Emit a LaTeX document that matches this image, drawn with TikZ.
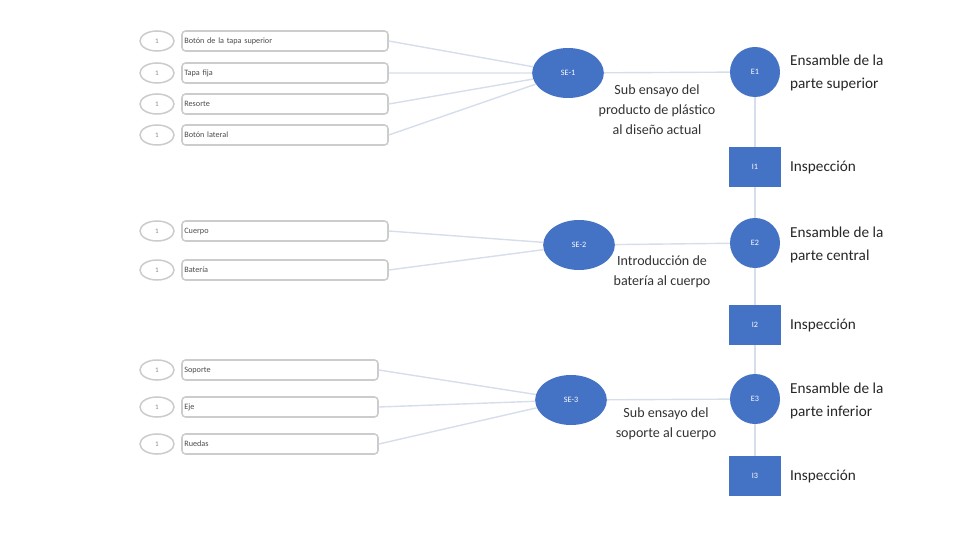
\documentclass[tikz,border=0pt]{standalone}
\usepackage{fontspec}
\setmainfont{Carlito}
\usetikzlibrary{shapes.geometric}
\definecolor{opblue}{HTML}{4472C4}
\definecolor{linkgray}{HTML}{D5DEEA}
\tikzset{
  part tag/.style={
    ellipse,draw=black!20,line width=1.3pt,fill=white,minimum width=1.02cm,
    minimum height=0.6cm,inner sep=0pt,font=\fontsize{6}{7}\selectfont,text=black!45
  },
  part box/.style={
    rectangle,rounded corners=3pt,draw=black!20,line width=1.3pt,fill=white,
    minimum height=0.6cm,inner sep=2pt,align=left,
    font=\fontsize{7}{8}\selectfont,text=black!70
  },
  sub node/.style={
    ellipse,fill=opblue,minimum width=2.15cm,minimum height=1.5cm,
    inner sep=0pt,font=\fontsize{7}{8}\selectfont,text=white
  },
  op node/.style={
    circle,fill=opblue,minimum size=1.5cm,inner sep=0pt,
    font=\fontsize{7}{8}\selectfont,text=white
  },
  insp node/.style={
    rectangle,fill=opblue,minimum width=1.56cm,minimum height=1.2cm,
    inner sep=0pt,font=\fontsize{7}{8}\selectfont,text=white
  },
  step text/.style={font=\fontsize{12}{17}\selectfont,text=black!80,align=center},
  side text/.style={anchor=west,font=\fontsize{13}{19}\selectfont,text=black!85,align=left},
  link/.style={linkgray,line width=1.2pt}
}
\newcommand{\partrow}[5]{%
  \node[part tag] (#1t) at (157,#2) {1};
  \node[part box,minimum width=#3cm,text width=#3cm-4pt] (#1) at (#4,#2) {#5\vphantom{Áy}};
}

\begin{document}
\begin{tikzpicture}[x=0.03cm,y=-0.03cm]
  \useasboundingbox (0,0) rectangle (960,540);
  % parts of the first sub assembly
  \partrow{p1}{41}{6.18}{285}{Botón de la tapa superior}
  \partrow{p2}{73}{6.18}{285}{Tapa fija}
  \partrow{p3}{104}{6.18}{285}{Resorte}
  \partrow{p4}{135}{6.18}{285}{Botón lateral}
  % parts of the second sub assembly
  \partrow{p5}{231}{6.18}{285}{Cuerpo}
  \partrow{p6}{270}{6.18}{285}{Batería}
  % parts of the third sub assembly
  \partrow{p7}{370}{5.88}{280}{Soporte}
  \partrow{p8}{407}{5.88}{280}{Eje}
  \partrow{p9}{444}{5.88}{280}{Ruedas}

  \node[sub node] (se1) at (568,73) {SE-1};
  \node[sub node] (se2) at (579,245) {SE-2};
  \node[sub node] (se3) at (571,400) {SE-3};

  \node[op node] (e1) at (755,72) {E1};
  \node[insp node] (i1) at (755,167) {I1};
  \node[op node] (e2) at (755,243) {E2};
  \node[insp node] (i2) at (755,325) {I2};
  \node[op node] (e3) at (755,399) {E3};
  \node[insp node] (i3) at (755,476) {I3};

  \node[step text] (s1) at (657,110) {Sub ensayo del\\producto de plástico\\al diseño actual};
  \node[step text] (s2) at (662,272) {Introducción de\\batería al cuerpo};
  \node[step text] (s3) at (666,424) {Sub ensayo del\\soporte al cuerpo};

  \node[side text] (l1) at (786,73) {Ensamble de la\\parte superior};
  \node[side text] (l2) at (786,167) {Inspección};
  \node[side text] (l3) at (786,245) {Ensamble de la\\parte central};
  \node[side text] (l4) at (786,325) {Inspección};
  \node[side text] (l5) at (786,401) {Ensamble de la\\parte inferior};
  \node[side text] (l6) at (786,476) {Inspección};

  \draw[link] (p1.east)--(se1) (p2.east)--(se1) (p3.east)--(se1) (p4.east)--(se1);
  \draw[link] (p5.east)--(se2) (p6.east)--(se2);
  \draw[link] (p7.east)--(se3) (p8.east)--(se3) (p9.east)--(se3);
  \draw[link] (se1)--(e1) (se2)--(e2) (se3)--(e3);
  \draw[link] (e1)--(i1) (i1)--(e2) (e2)--(i2) (i2)--(e3) (e3)--(i3);
\end{tikzpicture}
\end{document}
